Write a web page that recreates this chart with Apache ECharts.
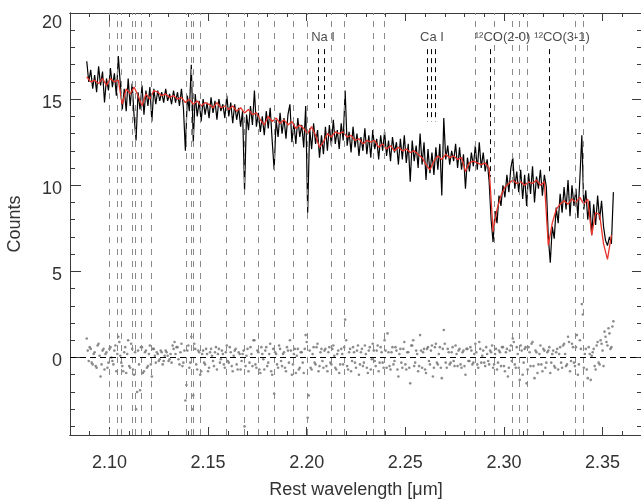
<!DOCTYPE html>
<html>
<head>
<meta charset="utf-8">
<script src="https://cdn.jsdelivr.net/npm/echarts@6/dist/echarts.min.js"></script>
<style>
  html, body { margin: 0; padding: 0; background: #fff; }
  #chart { width: 641px; height: 500px; }
</style>
</head>
<body>
<div id="chart"></div>
<script>
// spectrum sampling (rest wavelength grid, micron)
const specStart = 2.0885;
const specStep = 0.001;
// observed counts
const spectrum = [
  17.2, 16.0, 16.7, 15.6, 16.4, 15.4, 16.9, 15.8, 16.6, 14.8,
  16.2, 15.5, 16.8, 15.7, 16.5, 15.2, 17.5, 15.9, 14.4, 15.6,
  14.3, 16.2, 14.6, 15.9, 14.0, 12.6, 15.4, 14.4, 15.8, 14.1,
  15.5, 14.6, 15.7, 13.7, 15.6, 14.7, 15.5, 14.9, 15.4, 14.8,
  15.6, 14.9, 15.3, 14.7, 15.5, 14.8, 15.4, 14.6, 15.6, 14.5,
  12.0, 15.2, 14.3, 17.0, 12.5, 15.3, 14.0, 14.9, 13.7, 15.0,
  14.1, 14.8, 13.9, 15.1, 14.2, 14.9, 13.8, 15.0, 14.3, 14.7,
  13.9, 15.2, 14.0, 14.8, 13.6, 14.7, 13.8, 14.5, 13.4, 14.3,
  9.7, 14.1, 13.2, 14.6, 13.5, 15.5, 13.4, 14.2, 13.1, 14.0,
  12.9, 14.3, 13.3, 14.5, 12.6, 10.9, 13.8, 12.8, 14.2, 13.0,
  13.9, 12.7, 14.1, 14.7, 12.5, 13.6, 12.4, 13.9, 12.8, 13.5,
  12.2, 14.6, 8.4, 13.3, 12.1, 13.6, 12.4, 13.2, 11.6, 12.9,
  11.8, 13.4, 12.0, 13.5, 12.3, 13.8, 12.4, 13.2, 12.1, 13.6,
  12.6, 15.5, 12.3, 13.1, 11.9, 13.4, 12.2, 13.0, 11.7, 12.8,
  12.0, 13.3, 11.8, 12.9, 11.6, 13.2, 12.1, 12.7, 11.5, 12.9,
  12.0, 13.1, 11.7, 12.6, 11.4, 12.8, 11.9, 12.5, 11.2, 12.7,
  11.5, 12.9, 11.3, 12.4, 10.2, 12.6, 11.4, 12.3, 11.0, 13.0,
  11.2, 12.5, 10.3, 12.1, 10.7, 11.9, 10.6, 12.2, 10.9, 12.4,
  9.4, 13.9, 11.5, 12.3, 11.2, 12.0, 11.4, 12.4, 11.0, 12.2,
  10.9, 11.8, 9.8, 11.6, 10.8, 11.9, 11.1, 12.3, 10.9, 12.5,
  11.0, 11.9, 10.8, 11.5, 10.2, 8.0, 6.7, 8.5, 7.8, 9.4,
  8.8, 10.0, 9.3, 10.6, 9.6, 11.0, 11.6, 9.8, 10.8, 9.6,
  10.9, 9.2, 10.6, 8.8, 10.7, 9.5, 11.1, 9.0, 10.5, 9.8,
  10.9, 9.4, 10.6, 9.9, 7.0, 5.5, 7.6, 6.9, 8.7, 7.8,
  9.5, 8.4, 9.9, 8.6, 10.3, 8.2, 10.0, 8.8, 9.8, 8.1,
  10.4, 12.9, 8.6, 9.7, 8.0, 9.1, 7.1, 8.9, 7.7, 9.4,
  8.0, 9.1, 7.6, 6.8, 6.5, 7.0, 6.6, 9.6
];
// best-fit model (red), sampled every 0.002 micron
const modelStart = 2.0885;
const modelStep = 0.002;
const model = [
  16.3, 16.0, 16.1, 15.9, 16.2, 15.8, 16.2, 16.0, 16.1, 14.7,
  15.6, 15.3, 15.7, 15.2, 14.6, 15.3, 15.0, 15.5, 15.4, 15.2,
  15.3, 15.1, 15.2, 15.0, 15.1, 14.8, 15.0, 14.7, 14.9, 14.6,
  14.8, 14.7, 14.5, 14.8, 14.5, 14.6, 14.4, 14.6, 14.3, 14.5,
  14.2, 14.4, 14.1, 14.2, 13.8, 13.5, 14.0, 13.7, 13.9, 13.6,
  13.8, 13.5, 13.7, 13.3, 13.5, 13.3, 13.0, 13.4, 12.9, 12.2,
  12.5, 13.0, 12.8, 13.1, 13.0, 13.1, 12.8, 12.9, 12.6, 12.7,
  12.4, 12.6, 12.5, 12.6, 12.2, 12.4, 12.1, 12.3, 12.0, 12.2,
  12.0, 12.1, 11.9, 12.0, 11.8, 11.6, 11.2, 10.9, 11.4, 11.7,
  11.5, 11.8, 11.6, 11.7, 11.5, 11.6, 10.8, 11.3, 11.4, 11.3,
  11.2, 11.3, 11.0, 7.3, 8.6, 9.4, 9.9, 10.1, 10.3, 10.1,
  10.2, 10.0, 10.2, 10.1, 10.3, 10.0, 10.2, 6.5, 7.8, 8.6,
  8.9, 9.1, 8.9, 9.2, 9.0, 9.3, 8.9, 9.2, 7.1, 8.4,
  8.3, 6.6, 5.7, 7.1
];
// residuals (data - model), on the spectrum grid
const residual = [
  1.1, -0.2, 0.5, -0.4, 0.3, -0.6, 0.8, -1.1, 0.4, -0.7,
  0.3, -0.3, 0.6, -0.2, 0.4, -0.8, 1.2, 0.1, -0.5, 0.3,
  -0.9, 1.0, -0.6, 0.5, -1.0, -3.0, 0.4, -1.9, 0.6, -0.8,
  0.4, -0.5, 0.7, -1.1, 0.5, -0.3, 0.2, -0.1, 0.3, -0.2,
  0.4, 0.1, -0.1, -0.3, 0.5, 0.2, 0.6, -0.4, 0.8, -0.3,
  -2.5, 0.4, -0.6, 1.2, -2.2, 0.5, -0.7, 0.3, -0.8, 0.4,
  -0.4, 0.2, -0.6, 0.5, -0.2, 0.3, -0.7, 0.5, -0.1, 0.2,
  -0.6, 0.7, -0.3, 0.3, -0.8, 0.4, -0.4, 0.3, -0.7, 0.2,
  -4.0, 0.1, -0.8, 0.6, -0.5, 1.0, -0.6, 0.3, -0.9, 0.2,
  -0.7, 0.6, -0.3, 0.8, -1.0, -2.1, 0.2, -0.6, 0.5, -0.5,
  0.3, -0.8, 0.4, 1.0, -1.0, 0.2, -0.9, 0.5, -0.6, 0.3,
  -0.9, 1.3, -3.5, 0.4, -0.7, 0.6, -0.4, 0.8, -0.5, 0.5,
  -0.6, 0.5, -0.8, 0.6, -0.4, 0.7, -0.6, 0.2, -0.9, 0.5,
  -0.4, 2.2, -0.5, 0.3, -0.8, 0.6, -0.3, 0.4, -1.0, 0.3,
  -0.5, 0.7, -0.6, 0.4, -0.7, 0.8, -0.2, 0.4, -0.8, 0.6,
  -0.3, 1.0, -0.6, 0.3, -0.7, 0.6, -0.2, 0.4, -1.1, 0.5,
  -0.6, 0.9, -0.7, 0.3, -1.5, 0.7, -0.5, 0.4, -0.8, 1.3,
  -0.6, 0.5, -0.9, 0.6, -0.4, 0.7, -0.6, 0.8, -0.4, 0.6,
  -1.2, 1.6, -0.3, 0.5, -0.4, 0.3, -0.2, 0.7, -0.5, 0.5,
  -0.6, 0.4, -1.0, 0.5, -0.2, 0.4, -0.3, 0.8, -0.4, 0.9,
  -0.3, 0.4, -0.5, 0.2, -0.4, 0.3, -0.6, 0.2, -0.7, 0.4,
  -0.5, 0.6, -0.8, 0.5, -0.6, 0.7, 1.1, -0.4, 0.6, -0.6,
  0.7, -1.0, 0.5, -1.5, 0.6, -0.5, 0.9, -1.2, 0.3, -0.4,
  0.7, -0.8, 0.4, -0.3, 0.4, -0.9, 0.2, -0.5, 0.3, -0.7,
  0.6, -0.6, 0.8, -0.5, 1.2, -0.8, 0.8, -0.3, 0.6, -1.0,
  1.0, 3.1, -0.6, 0.5, -1.2, 0.2, 0.1, 0.5, -0.7, 0.9,
  -0.4, 0.8, -0.5, 1.2, 0.7, 1.4, 0.6, 2.1
];
// residuals at the in-between pixels (start + 0.0005)
const residualMid = [
  0.4, 0.6, -0.3, 0.2, -0.5, 0.7, 0.1, -0.4, 0.5, 0.2,
  -0.6, 0.5, 0.0, -0.4, 0.7, 0.2, 0.9, -0.3, -0.8, 0.6,
  0.2, -0.5, 0.8, -0.7, 0.3, -2.0, -0.4, 0.6, -0.9, 0.3,
  -0.6, 0.2, -0.4, 0.5, 0.1, 0.3, -0.2, 0.4, -0.4, 0.1,
  0.3, -0.2, 0.2, 0.7, 0.9, 0.6, -0.1, 0.3, -0.5, 0.4,
  -1.6, 0.7, -0.3, -3.0, 0.8, -0.4, 0.4, -1.0, 0.2, -0.3,
  0.5, -0.8, 0.3, 0.1, -0.5, 0.6, 0.2, -0.3, 0.4, -0.4,
  0.3, -0.2, 0.6, -0.5, 0.1, 0.5, -0.7, 0.2, -0.2, 0.4,
  -0.5, 0.5, -0.3, 0.2, 1.0, -0.4, 0.4, -0.7, 0.6, -0.1,
  0.4, -0.5, 0.2, -0.8, 0.5, 0.3, -0.4, 0.7, -0.2, 0.2,
  -0.6, 0.6, -0.3, 0.4, -0.4, 0.5, 0.1, -0.7, 0.3, -0.3,
  0.5, 0.9, -2.2, -0.6, 0.2, -0.3, 0.6, -0.8, 0.3, -0.2,
  0.4, -0.5, 0.3, -0.3, 0.5, 0.1, -0.7, 0.4, -0.4, 0.2,
  0.6, 1.0, -0.7, 0.5, -0.2, 0.3, -0.6, 0.7, -0.4, 0.5,
  -0.3, 0.2, -0.9, 0.6, -0.1, 0.4, -0.5, 0.7, -0.3, 0.3,
  -0.6, 0.4, 1.4, -0.5, 0.3, -0.4, 0.6, -0.7, 0.2, -0.3,
  0.5, -0.4, 0.3, -0.6, 0.7, 1.0, -0.3, 0.2, -0.5, 0.4,
  0.3, -0.7, 0.5, -0.2, 0.4, -1.1, 0.6, -0.3, 0.2, -0.6,
  0.5, 0.8, -0.6, 0.3, -0.3, 0.6, -0.5, 0.2, 0.4, -0.4,
  0.3, -0.5, 0.5, -0.2, 0.6, -0.4, 0.2, 0.3, -0.6, 0.5,
  0.1, -0.3, 0.6, -0.2, 0.4, 0.7, -0.4, 0.5, -0.3, 0.3,
  0.6, -0.5, 0.3, -1.1, 0.4, -0.2, 0.9, -0.6, 0.2, -1.3,
  0.4, -0.3, 0.6, -0.7, 0.3, 0.8, -0.5, 0.4, -0.9, 0.2,
  -0.4, 0.5, -0.6, 0.3, 0.6, -0.3, 0.4, -0.6, 0.5, 0.2,
  -0.3, 0.7, 0.2, -0.4, 0.9, -0.2, 0.6, -0.5, 1.3, -0.4,
  0.5, 2.5, 0.2, -0.7, 0.6, -1.3, 0.3, -0.5, 0.7, -0.3,
  1.0, 0.4, 1.5, 0.9, 1.7, 0.5, 1.8
];

// fitted absorption lines (gray dashed)
const grayLines = [
  2.1000, 2.1041, 2.1058, 2.1117, 2.1132, 2.1159, 2.1210, 2.1389, 2.1415, 2.1426,
  2.1461, 2.1591, 2.1682, 2.1753, 2.1834, 2.1930, 2.2003, 2.2127, 2.2189, 2.2336,
  2.2392, 2.2856, 2.2949, 2.3042, 2.3077, 2.3118, 2.3364, 2.3401
];
// labelled features (black dashed): [wavelength, top, bottom]
const naLines = [[2.2059, 17.9, 14.25], [2.2088, 17.9, 14.25]];
const caLines = [[2.2611, 17.9, 13.7], [2.2631, 17.9, 13.7], [2.2651, 17.9, 13.7]];
const coLines = [[2.2929, 17.9, 10.5], [2.3229, 17.9, 10.6]];
const featureLabels = [
  ['Na I', 2.2083, 18.6],
  ['Ca I', 2.2635, 18.6],
  ['¹²CO(2-0)', 2.2993, 18.6],
  ['¹²CO(3-1)', 2.3295, 18.6]
];

// ticks
const xMajor = [2.10, 2.15, 2.20, 2.25, 2.30, 2.35];
const xMinor = [2.09, 2.10, 2.11, 2.12, 2.13, 2.14, 2.15, 2.16, 2.17, 2.18, 2.19, 2.20, 2.21, 2.22,
  2.23, 2.24, 2.25, 2.26, 2.27, 2.28, 2.29, 2.30, 2.31, 2.32, 2.33, 2.34, 2.35, 2.36];
const yMajor = [0, 5, 10, 15, 20];
const yMinor = [-4, -3, -2, -1, 0, 1, 2, 3, 4, 5, 6, 7, 8, 9, 10, 11, 12, 13, 14, 15, 16, 17, 18, 19];

const X_MIN = 2.08, X_MAX = 2.37, Y_MIN = -4.5, Y_MAX = 20;
const FONT = 'Liberation Sans';
const AXIS_COLOR = '#3a3a3a';

const specData = spectrum.map((v, i) => [specStart + i * specStep, v]);
const modelData = model.map((v, j) => [modelStart + j * modelStep, v]);
const residData = residual.map((v, i) => [specStart + i * specStep, v])
  .concat(residualMid.map((v, i) => [specStart + specStep / 2 + i * specStep, v]));

function xAxisDef(position, ticks, len, withLabels) {
  const ax = {
    type: 'value', min: X_MIN, max: X_MAX, position: position,
    axisLine: { show: true, onZero: false, lineStyle: { color: AXIS_COLOR, width: 1 } },
    axisTick: { show: true, inside: true, length: len, customValues: ticks, lineStyle: { color: AXIS_COLOR, width: 1 } },
    axisLabel: { show: false },
    splitLine: { show: false }
  };
  if (withLabels) {
    ax.axisLabel = {
      show: true, customValues: xMajor, margin: 19,
      color: '#333', fontSize: 18, fontFamily: FONT,
      formatter: v => v.toFixed(2)
    };
    ax.name = 'Rest wavelength [μm]';
    ax.nameLocation = 'middle';
    ax.nameGap = 46;
    ax.nameTextStyle = { color: '#333', fontSize: 18, fontFamily: FONT };
  }
  return ax;
}

function yAxisDef(position, ticks, len, withLabels) {
  const ax = {
    type: 'value', min: Y_MIN, max: Y_MAX, position: position,
    axisLine: { show: true, onZero: false, lineStyle: { color: AXIS_COLOR, width: 1 } },
    axisTick: { show: true, inside: true, length: len, customValues: ticks, lineStyle: { color: AXIS_COLOR, width: 1 } },
    axisLabel: { show: false },
    splitLine: { show: false }
  };
  if (withLabels) {
    ax.axisLabel = {
      show: true, customValues: yMajor, margin: 8,
      formatter: v => (v === 20 ? '{t|20}' : '{n|' + v + '}'),
      rich: {
        n: { color: '#333', fontSize: 18, fontFamily: FONT, padding: [7, 0, 0, 0] },
        t: { color: '#333', fontSize: 18, fontFamily: FONT, padding: [20, 0, 0, 0] }
      }
    };
    ax.name = 'Counts';
    ax.nameLocation = 'middle';
    ax.nameGap = 46;
    ax.nameTextStyle = { color: '#333', fontSize: 18, fontFamily: FONT };
  }
  return ax;
}

function segs(list) {
  return list.map(l => [{ coord: [l[0], l[1]] }, { coord: [l[0], l[2]] }]);
}

const chart = echarts.init(document.getElementById('chart'), null, { renderer: 'canvas' });
chart.setOption({
  animation: false,
  backgroundColor: '#fff',
  grid: { left: 70, right: -1, top: 13, bottom: 65, containLabel: false, outerBoundsMode: 'none' },
  xAxis: [
    xAxisDef('bottom', xMajor, 8, true),
    xAxisDef('bottom', xMinor, 4, false),
    xAxisDef('top', xMajor, 8, false),
    xAxisDef('top', xMinor, 4, false)
  ],
  yAxis: [
    yAxisDef('left', yMajor, 11, true),
    yAxisDef('left', yMinor, 5, false),
    yAxisDef('right', yMajor, 10, false),
    yAxisDef('right', yMinor, 5, false)
  ],
  series: [
    {
      // fitted line list
      type: 'line', data: [], z: 1, silent: true,
      markLine: {
        silent: true, symbol: 'none', animation: false, precision: 4,
        label: { show: false },
        lineStyle: { color: '#8a8a8a', type: [6, 6], width: 1 },
        data: grayLines.map(x => ({ xAxis: x }))
      }
    },
    {
      type: 'line', data: [], z: 1, silent: true,
      markLine: {
        silent: true, symbol: 'none', animation: false, precision: 4,
        label: { show: false },
        lineStyle: { color: '#000', type: [5, 4], width: 1 },
        data: segs(naLines).concat(segs(caLines), segs(coLines))
      }
    },
    {
      name: 'residual', type: 'scatter', data: residData, z: 2,
      symbol: 'circle', symbolSize: 2.6,
      itemStyle: { color: '#6f6f6f' },
      markLine: {
        silent: true, symbol: 'none', animation: false, precision: 4,
        label: { show: false },
        lineStyle: { color: '#000', type: [6, 4], width: 1 },
        data: [{ yAxis: 0 }]
      }
    },
    {
      name: 'spectrum', type: 'line', data: specData, z: 3,
      showSymbol: false, symbol: 'none',
      lineStyle: { color: '#000', width: 1.2 }
    },
    {
      name: 'model', type: 'line', data: modelData, z: 4,
      showSymbol: false, symbol: 'none',
      lineStyle: { color: '#e8342b', width: 1.3 }
    },
    {
      type: 'scatter', z: 5, symbolSize: 0, silent: true,
      data: featureLabels.map(f => ({ name: f[0], value: [f[1], f[2]] })),
      label: {
        show: true, position: 'inside', formatter: '{b}',
        color: '#222', fontSize: 13, fontFamily: FONT
      }
    }
  ]
});
</script>
</body>
</html>
